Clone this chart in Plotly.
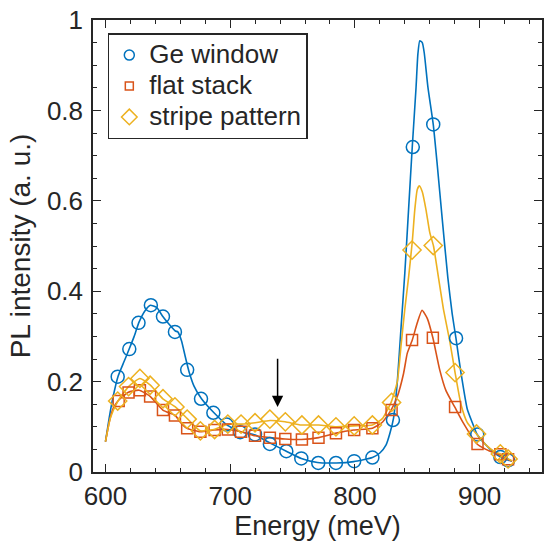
import plotly.graph_objects as go

# ---- Marker samples: energy (meV) and normalised PL intensity ----
ge_marker_e = [609.8, 619.1, 626.5, 636.4, 646.1, 655.7, 665.5, 676.6, 686.5, 697.1,
               708.0, 719.9, 731.8, 745.0, 757.0, 770.6, 784.8, 799.4, 814.0, 830.5,
               846.4, 862.8, 881.1, 898.1, 916.6, 922.8]
ge_marker_i = [0.211, 0.272, 0.330, 0.369, 0.344, 0.310, 0.226, 0.162, 0.131, 0.105,
               0.088, 0.083, 0.062, 0.046, 0.030, 0.020, 0.020, 0.024, 0.032, 0.115,
               0.719, 0.769, 0.296, 0.083, 0.033, 0.026]

flat_marker_e = [610.6, 618.5, 627.6, 635.8, 646.1, 655.7, 665.5, 676.1, 687.5, 698.1,
                 708.7, 719.9, 731.8, 744.2, 757.5, 770.8, 784.8, 799.4, 814.0, 829.4,
                 845.8, 862.5, 880.3, 898.3, 916.6, 922.8]
flat_marker_i = [0.157, 0.176, 0.181, 0.167, 0.137, 0.125, 0.097, 0.089, 0.093, 0.094,
                 0.089, 0.080, 0.076, 0.073, 0.072, 0.076, 0.086, 0.093, 0.097, 0.137,
                 0.292, 0.297, 0.144, 0.062, 0.039, 0.028]

stripe_marker_e = [609.8, 618.5, 627.6, 635.8, 646.1, 655.7, 665.5, 676.1, 687.5, 698.1,
                   708.7, 719.9, 731.8, 744.2, 757.5, 770.8, 784.8, 799.4, 814.0, 829.4,
                   845.8, 862.8, 880.3, 897.5, 916.6, 922.8]
stripe_marker_i = [0.157, 0.189, 0.207, 0.192, 0.162, 0.144, 0.117, 0.091, 0.094, 0.106,
                   0.106, 0.109, 0.117, 0.111, 0.104, 0.104, 0.100, 0.102, 0.104, 0.154,
                   0.491, 0.501, 0.220, 0.084, 0.040, 0.029]

# ---- Continuous spectra ----
ge_line_e = [600, 603, 606, 610, 615, 619, 623, 627, 632, 636, 641, 646, 650, 656,
             658, 661, 664, 667, 671, 677, 687, 697, 708, 720, 732, 745, 757, 770,
             785, 799, 814, 820, 825, 828, 831, 834, 837, 840, 843, 846, 849, 850.5,
             852, 854, 855.6, 858.5, 862.8, 866, 870, 874.5, 878, 881, 885, 890, 894,
             898, 905, 912, 917, 923, 926]
ge_line_i = [0.067, 0.120, 0.165, 0.211, 0.245, 0.272, 0.300, 0.332, 0.358, 0.369,
             0.364, 0.344, 0.330, 0.312, 0.310, 0.290, 0.255, 0.222, 0.190, 0.162,
             0.131, 0.105, 0.089, 0.082, 0.064, 0.046, 0.030, 0.021, 0.020, 0.023,
             0.032, 0.042, 0.060, 0.085, 0.120, 0.200, 0.320, 0.440, 0.580, 0.720,
             0.850, 0.925, 0.954, 0.950, 0.927, 0.852, 0.769, 0.680, 0.560, 0.430,
             0.350, 0.296, 0.220, 0.140, 0.110, 0.083, 0.060, 0.042, 0.033, 0.026,
             0.024]

flat_line_e = [600, 603, 606, 610, 618, 627, 636, 646, 656, 660, 665, 676, 687, 698,
               709, 720, 732, 744, 757, 771, 785, 799, 814, 822, 829, 834, 839, 842,
               846, 850, 853.8, 858, 862.5, 868, 873, 880, 887, 897.5, 905, 912, 917,
               923, 926]
flat_line_i = [0.067, 0.110, 0.140, 0.157, 0.176, 0.181, 0.167, 0.137, 0.125, 0.110,
               0.097, 0.089, 0.093, 0.094, 0.089, 0.080, 0.076, 0.073, 0.072, 0.076,
               0.086, 0.093, 0.097, 0.110, 0.137, 0.167, 0.218, 0.263, 0.292, 0.330,
               0.358, 0.340, 0.297, 0.226, 0.180, 0.144, 0.108, 0.063, 0.050, 0.042,
               0.037, 0.028, 0.024]

stripe_line_e = [600, 604, 610, 618.5, 627.6, 636, 646, 656, 666, 676, 687, 698, 709,
                 720, 732, 744, 757, 771, 785, 799, 814, 822, 829, 834, 837, 840, 843,
                 846, 848, 850, 851.7, 854, 857, 860, 863, 867, 871, 876, 880.3, 885,
                 890, 897.5, 905, 912, 917, 923, 926]
stripe_line_i = [0.067, 0.120, 0.157, 0.189, 0.207, 0.192, 0.162, 0.144, 0.117, 0.091,
                 0.094, 0.106, 0.106, 0.109, 0.114, 0.111, 0.104, 0.104, 0.100, 0.102,
                 0.104, 0.118, 0.154, 0.200, 0.280, 0.360, 0.430, 0.510, 0.580, 0.625,
                 0.633, 0.620, 0.580, 0.530, 0.500, 0.430, 0.360, 0.290, 0.220, 0.150,
                 0.110, 0.084, 0.060, 0.045, 0.040, 0.029, 0.025]

series_names = ["Ge window", "flat stack", "stripe pattern"]
colors = ["#0072BD", "#D95319", "#EDB120"]
symbols = ["circle-open", "square-open", "diamond-open"]
sizes = [13, 11, 14]
legend_sizes = [10, 8, 12]

lines = [(ge_line_e, ge_line_i), (flat_line_e, flat_line_i), (stripe_line_e, stripe_line_i)]
markers = [(ge_marker_e, ge_marker_i), (flat_marker_e, flat_marker_i),
           (stripe_marker_e, stripe_marker_i)]

FONT = "Liberation Sans, Arial, Helvetica, sans-serif"
INK = "#262626"

fig = go.Figure()

# spectra
for (xe, yi), col in zip(lines, colors):
    fig.add_trace(go.Scatter(x=xe, y=yi, mode="lines", showlegend=False,
                             line=dict(color=col, width=1.6, shape="spline", smoothing=0.5),
                             hoverinfo="skip"))

# sampled markers on each spectrum
for (xe, yi), col, sym, sz in zip(markers, colors, symbols, sizes):
    fig.add_trace(go.Scatter(x=xe, y=yi, mode="markers", showlegend=False,
                             marker=dict(symbol=sym, size=sz, color=col,
                                         line=dict(color=col, width=1.5))))

# legend keys (smaller symbols than the plotted markers)
for name, col, sym, sz in zip(series_names, colors, symbols, legend_sizes):
    fig.add_trace(go.Scatter(x=[None], y=[None], mode="markers",
                             name='<span style="font-size:26px">%s</span>' % name,
                             marker=dict(symbol=sym, size=sz, color=col,
                                         line=dict(color=col, width=1.5))))

# arrow marking the feature in the intermediate band
arrow_e = 738
arrow_tip = 0.144
arrow_tail = 0.254
fig.add_annotation(x=arrow_e, y=arrow_tip, ax=arrow_e, ay=arrow_tail,
                   xref="x", yref="y", axref="x", ayref="y",
                   text="", showarrow=True, arrowhead=2, arrowsize=1.5,
                   arrowwidth=1.5, arrowcolor="#000000")

x_ticks = [600, 700, 800, 900]
y_ticks = [0, 0.2, 0.4, 0.6, 0.8, 1]

axis_common = dict(showline=True, linecolor=INK, linewidth=1.5, mirror="allticks",
                   ticks="inside", ticklen=8, tickwidth=1.2, tickcolor=INK,
                   showgrid=False, zeroline=False,
                   tickfont=dict(family=FONT, size=26, color=INK))

fig.update_xaxes(range=[590, 950], tickvals=x_ticks, ticktext=[str(v) for v in x_ticks],
                 minor=dict(dtick=20, tick0=600, ticks="inside", ticklen=4,
                            tickwidth=1.2, tickcolor=INK),
                 title=dict(text="Energy (meV)", font=dict(family=FONT, size=27, color=INK),
                            standoff=2),
                 **axis_common)
fig.update_yaxes(range=[0, 1], tickvals=y_ticks, ticktext=["0", "0.2", "0.4", "0.6", "0.8", "1"],
                 minor=dict(dtick=0.05, tick0=0, ticks="inside", ticklen=4,
                            tickwidth=1.2, tickcolor=INK),
                 ticklabelstandoff=3,
                 title=dict(text="PL intensity (a. u.)", font=dict(family=FONT, size=28, color=INK),
                            standoff=8),
                 **axis_common)

fig.update_layout(
    width=545, height=550,
    margin=dict(l=93, r=1, t=20, b=78),
    paper_bgcolor="white", plot_bgcolor="white",
    font=dict(family=FONT, color=INK),
    legend=dict(x=0.033, y=0.971, xanchor="left", yanchor="top",
                bgcolor="white", bordercolor=INK, borderwidth=1.5,
                font=dict(family=FONT, size=21.5, color=INK),
                itemsizing="trace"),
)

fig.write_html("out.html")
